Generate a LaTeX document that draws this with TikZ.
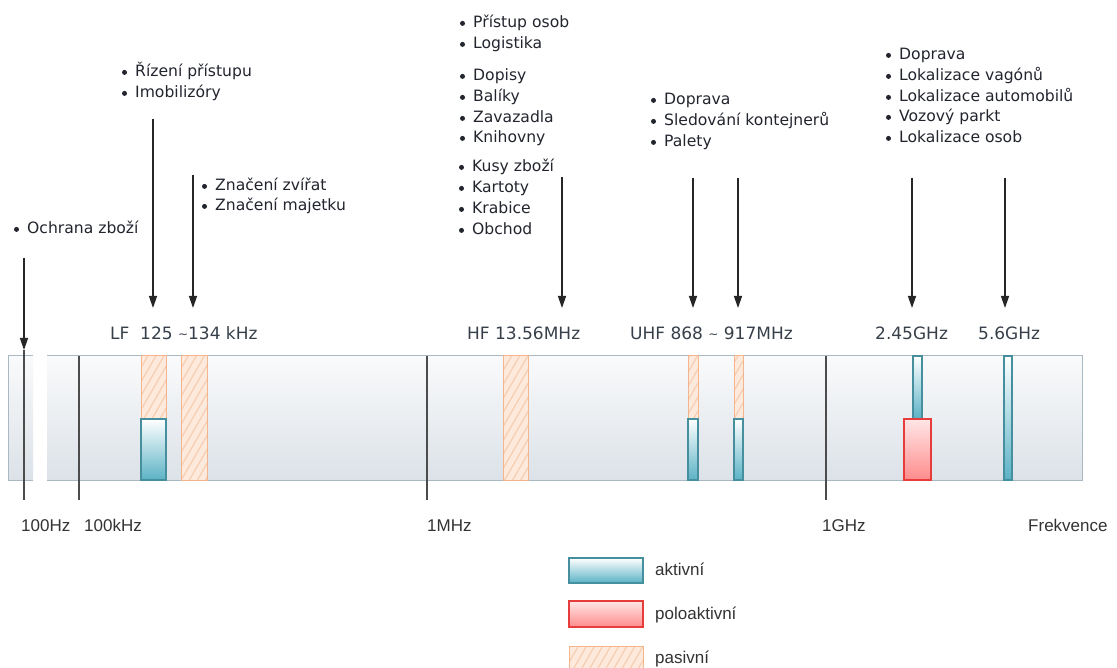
\documentclass[tikz,border=0pt]{standalone}
\usepackage{fontspec}
\setmainfont{DejaVu Sans}
\newfontfamily\arialf{Liberation Sans}
\usetikzlibrary{patterns.meta,arrows.meta}
\definecolor{barTop}{HTML}{F9FAFB}
\definecolor{barBot}{HTML}{DCE2E8}
\definecolor{barDraw}{HTML}{A9B9C4}
\definecolor{pasFill}{HTML}{FDEADC}
\definecolor{pasHatch}{HTML}{F8CDB0}
\definecolor{pasDraw}{HTML}{F4B48C}
\definecolor{actBot}{HTML}{5AB2C5}
\definecolor{actDraw}{HTML}{458F9F}
\definecolor{semiTop}{HTML}{FFE6E6}
\definecolor{semiBot}{HTML}{FF8C8C}
\definecolor{semiDraw}{HTML}{E63C3C}
\definecolor{txtCol}{HTML}{22252E}
\definecolor{freqCol}{HTML}{37404A}
\definecolor{axCol}{HTML}{333333}
\tikzset{
  arr/.style={draw=black!85, line width=1.3pt, -{Triangle[length=12pt,width=8pt]}},
  tickline/.style={draw=black!70, line width=1.2pt},
  listtxt/.style={anchor=base west, inner sep=0pt, text=txtCol, font=\fontsize{15.6}{20}\selectfont},
  freq/.style={anchor=base west, inner sep=0pt, text=freqCol, font=\fontsize{17}{20}\selectfont},
  axislbl/.style={anchor=base west, inner sep=0pt, text=axCol, font=\arialf\fontsize{17}{20}\selectfont},
  legtxt/.style={anchor=base west, inner sep=0pt, text=axCol, font=\arialf\fontsize{17}{20}\selectfont},
  passive/.style={draw=pasDraw, line width=1pt, preaction={fill=pasFill},
    preaction={pattern={Lines[angle=60,distance=7pt,line width=1.2pt]}, pattern color=pasHatch}},
  active/.style={top color=white, bottom color=actBot, draw=actDraw, line width=1.2pt},
  semi/.style={top color=semiTop, bottom color=semiBot, draw=semiDraw, line width=1.2pt},
  bardraw/.style={draw=barDraw, line width=1pt}
}
\newcommand{\litem}[4]{%
  \node[listtxt] (#1) at (#2,#3) {#4};
  \fill[txtCol] ([xshift=-10.5pt,yshift=4.6pt]#1.base west) circle (2.5pt);
}
\begin{document}
\begin{tikzpicture}[x=1pt,y=-1pt]
\useasboundingbox[fill=white] (0,0) rectangle (1117,668);
% frequency bar
\shade[top color=barTop,bottom color=barBot] (8,356) rectangle (33,480);
\shade[top color=barTop,bottom color=barBot] (47,356) rectangle (1082,480);
\draw[bardraw] (33,356) -- (8,356) -- (8,480) -- (33,480);
\draw[bardraw] (47,356) -- (1082,356) -- (1082,480) -- (47,480);
% bands
\path[passive] (141,356) rectangle (166,419);
\path[active] (141,419) rectangle (166,480);
\path[passive] (181,356) rectangle (207,480);
\path[passive] (503,356) rectangle (528,480);
\path[passive] (688,356) rectangle (698,419);
\path[active] (688,419) rectangle (698,480);
\path[passive] (734,356) rectangle (743,419);
\path[active] (734,419) rectangle (743,480);
\path[active] (913,356) rectangle (922,419);
\path[semi] (904,419) rectangle (931,480);
\path[active] (1004,356) rectangle (1012,480);
% decade ticks
\coordinate (t1a) at (24,350); \coordinate (t1b) at (24,500);
\coordinate (t2a) at (79,356); \coordinate (t2b) at (79,500);
\coordinate (t3a) at (427,356); \coordinate (t3b) at (427,500);
\coordinate (t4a) at (826,356); \coordinate (t4b) at (826,500);
\draw[tickline] (t1a) -- (t1b);
\draw[tickline] (t2a) -- (t2b);
\draw[tickline] (t3a) -- (t3b);
\draw[tickline] (t4a) -- (t4b);
% axis labels
\node[axislbl] (l100hz) at (21,531) {100Hz};
\node[axislbl] (l100khz) at (84,531) {100kHz};
\node[axislbl] (l1mhz) at (427,531) {1MHz};
\node[axislbl] (l1ghz) at (822,531) {1GHz};
\node[axislbl] (lfrek) at (1028,531) {Frekvence};
% frequency labels
\node[freq] (flf) at (110,340) {LF\ \ 125 {\fontsize{12}{12}\selectfont\raisebox{1pt}{\textasciitilde}}134 kHz};
\node[freq] (fhf) at (467,340) {HF 13.56MHz};
\node[freq] (fuhf) at (630,340) {UHF 868 {\fontsize{12}{12}\selectfont\raisebox{1pt}{\textasciitilde}} 917MHz};
\node[freq] (f245) at (875,340) {2.45GHz};
\node[freq] (f56) at (978,340) {5.6GHz};
% arrows
\coordinate (a0s) at (24,258); \coordinate (a0e) at (24,350);
\coordinate (a1s) at (153,119); \coordinate (a1e) at (153,308);
\coordinate (a2s) at (193,175); \coordinate (a2e) at (193,308);
\coordinate (a3s) at (562,177); \coordinate (a3e) at (562,308);
\coordinate (a4s) at (693,178); \coordinate (a4e) at (693,308);
\coordinate (a5s) at (738,178); \coordinate (a5e) at (738,308);
\coordinate (a6s) at (912,178); \coordinate (a6e) at (912,308);
\coordinate (a7s) at (1005,178); \coordinate (a7e) at (1005,308);
\foreach \i in {0,...,7} {\draw[arr] (a\i s) -- (a\i e);}
% lists
\litem{och}{27}{234}{Ochrana zboží}
\litem{riz}{135}{77}{Řízení přístupu}
\litem{imo}{135}{98}{Imobilizóry}
\litem{zv}{215}{191}{Značení zvířat}
\litem{zm}{215}{211}{Značení majetku}
\litem{hf1}{473}{28}{Přístup osob}
\litem{hf2}{473}{49}{Logistika}
\litem{hf3}{473}{81}{Dopisy}
\litem{hf4}{473}{102}{Balíky}
\litem{hf5}{473}{123}{Zavazadla}
\litem{hf6}{473}{143}{Knihovny}
\litem{hf7}{472}{172}{Kusy zboží}
\litem{hf8}{472}{193}{Kartoty}
\litem{hf9}{472}{214}{Krabice}
\litem{hf10}{472}{235}{Obchod}
\litem{u1}{664}{105}{Doprava}
\litem{u2}{664}{126}{Sledování kontejnerů}
\litem{u3}{664}{147}{Palety}
\litem{g1}{899}{60}{Doprava}
\litem{g2}{899}{81}{Lokalizace vagónů}
\litem{g3}{899}{102}{Lokalizace automobilů}
\litem{g4}{899}{122}{Vozový parkt}
\litem{g5}{899}{143}{Lokalizace osob}
% legend
\path[active] (569,558) rectangle (643,583);
\node[legtxt] (lakt) at (655,575) {aktivní};
\path[semi] (569,601) rectangle (643,627);
\node[legtxt] (lpol) at (655,619) {poloaktivní};
\path[passive] (569,646) rectangle (643,672);
\node[legtxt] (lpas) at (655,663) {pasivní};
\end{tikzpicture}
\end{document}
